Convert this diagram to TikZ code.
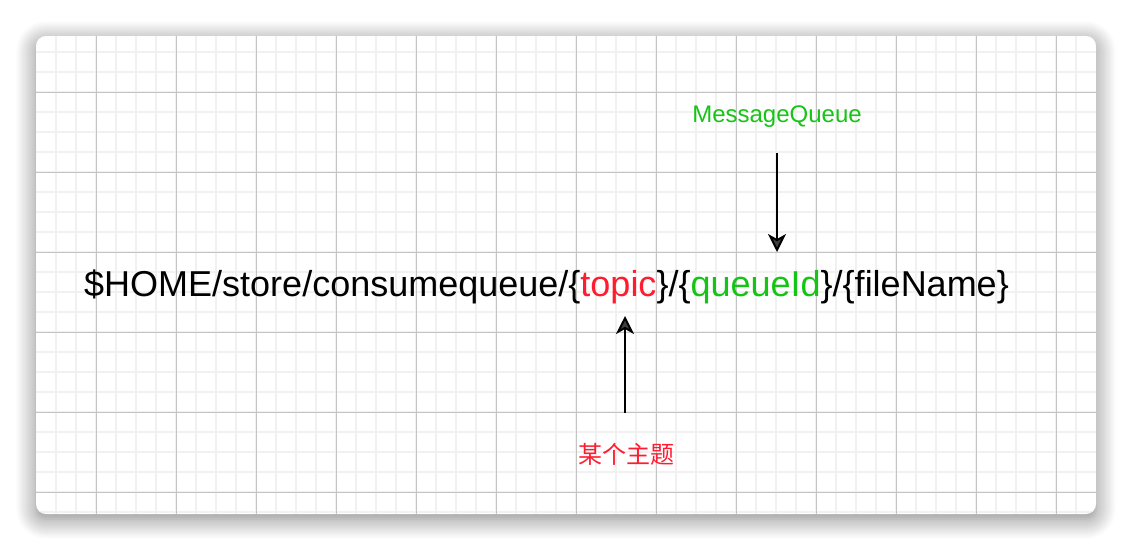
\documentclass[tikz,border=0pt]{standalone}
\usepackage{fontspec}
\setmainfont{Liberation Sans}
\newfontfamily\cjk{Noto Sans CJK SC}
\usetikzlibrary{arrows.meta,positioning,shadows.blur}
\definecolor{topicred}{RGB}{255,28,48}
\definecolor{queuegreen}{RGB}{22,196,22}
\definecolor{gridmajor}{RGB}{196,196,196}
\definecolor{gridminor}{RGB}{241,241,241}

\begin{document}
\begin{tikzpicture}[
    x=1pt, y=-1pt,
    card/.style={fill=white, rounded corners=10pt, blur shadow={shadow xshift=0pt, shadow yshift=-5pt, shadow blur radius=20pt, shadow blur steps=12, shadow opacity=50}},
    minorline/.style={draw=gridminor, line width=2pt},
    majorline/.style={draw=gridmajor, line width=1pt},
    pathtext/.style={inner sep=0pt, font=\fontsize{36}{40}\selectfont},
    note/.style={inner sep=0pt, font=\fontsize{24}{28}\selectfont},
    pointer/.style={-{Stealth[length=18pt, width=18pt, inset=5pt]}, line width=2pt}
]
\useasboundingbox (0,0) rectangle (1132,550);
\path[card] (36,36) rectangle (1096,514);

% grid
\begin{scope}
\clip[rounded corners=10pt] (36,36) rectangle (1096,514);
\foreach \x in {56,76,...,1076} \draw[minorline] (\x,36) -- (\x,514);
\foreach \y in {52,72,...,512} \draw[minorline] (36,\y) -- (1096,\y);
\foreach \x in {96,176,...,1056} \draw[majorline] (\x,36) -- (\x,514);
\foreach \y in {92,172,...,492} \draw[majorline] (36,\y) -- (1096,\y);
\end{scope}

\node[pathtext, anchor=base west] (dirpath) at (84,296) {\$HOME/store/consumequeue/\{\textcolor{topicred}{topic}\}/\{\textcolor{queuegreen}{queueId}\}/\{fileName\}};
\node[note, anchor=base, text=queuegreen] (mq) at (777,122) {MessageQueue};
\node[note, text=topicred] (topic) at (626,454) {\cjk 某个主题};

\coordinate (mqtail) at (777,153);
\coordinate (mqhead) at (777,252);
\coordinate (topictail) at (625,413);
\coordinate (topichead) at (625,316);
\draw[pointer] (mqtail) -- (mqhead);
\draw[pointer] (topictail) -- (topichead);
\end{tikzpicture}
\end{document}
